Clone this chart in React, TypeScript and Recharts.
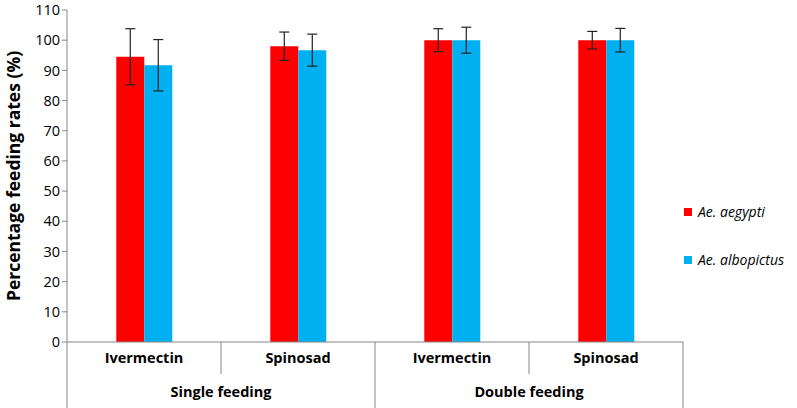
import React from "react";
import { BarChart, Bar, XAxis, YAxis, ErrorBar } from "recharts";

const treatments = ["Ivermectin", "Spinosad", "Ivermectin", "Spinosad"];
const feedingGroups = ["Single feeding", "Double feeding"];
const aegypti = [94.5, 98.0, 100, 100];
const aegyptiErr = [9.3, 4.7, 3.8, 2.9];
const albopictus = [91.7, 96.7, 100, 100];
const albopictusErr = [8.5, 5.3, 4.3, 3.9];
const yTicks = [0, 10, 20, 30, 40, 50, 60, 70, 80, 90, 100, 110];
const seriesNames = ["Ae. aegypti", "Ae. albopictus"];
const seriesColors = ["#FF0000", "#00B0F0"];

const data = treatments.map((t, i) => ({
  name: t,
  aegypti: aegypti[i],
  aegyptiErr: aegyptiErr[i],
  albopictus: albopictus[i],
  albopictusErr: albopictusErr[i],
}));

const FONT = "'Open Sans', sans-serif";
const AXIS = "#868686";

function CategoryTick(props: any) {
  const { x, y, payload, index } = props;
  const half = payload?.offset ?? 77;
  const left = x - half;
  const right = x + half;
  const last = index === treatments.length - 1;
  const outer = index % 2 === 0;
  return (
    <g>
      <line x1={left} y1={y - 8} x2={left} y2={outer ? y + 66 : y + 24} stroke={AXIS} />
      {last && <line x1={right} y1={y - 8} x2={right} y2={y + 66} stroke={AXIS} />}
      <text
        x={x}
        y={y + 13}
        textAnchor="middle"
        fontFamily={FONT}
        fontWeight="bold"
        fontSize={14.5}
        fill="#000"
      >
        {payload.value}
      </text>
      {outer && (
        <text
          x={right}
          y={y + 47}
          textAnchor="middle"
          fontFamily={FONT}
          fontWeight="bold"
          fontSize={14.5}
          fill="#000"
        >
          {feedingGroups[index / 2]}
        </text>
      )}
    </g>
  );
}

function LegendBox() {
  return (
    <div
      style={{
        position: "absolute",
        left: 684,
        top: 203,
        fontFamily: FONT,
        fontSize: 14,
        fontStyle: "italic",
        lineHeight: "18px",
      }}
    >
      {seriesNames.map((label, i) => (
        <div
          key={label}
          style={{ display: "flex", alignItems: "center", height: 18, marginBottom: i === 0 ? 30 : 0 }}
        >
          <span
            style={{ width: 8, height: 8, background: seriesColors[i], marginRight: 6, display: "inline-block" }}
          />
          <span>{label}</span>
        </div>
      ))}
    </div>
  );
}

export default function App() {
  return (
    <div style={{ position: "absolute", left: 0, top: 0, width: 797, height: 408, background: "#fff" }}>
      <BarChart
        width={797}
        height={408}
        data={data}
        margin={{ top: 10, right: 114, bottom: 0, left: 0 }}
        barCategoryGap="32%"
        barGap={0}
      >
        <YAxis
          width={67}
          domain={[0, 110]}
          ticks={yTicks}
          interval={0}
          tickSize={5}
          axisLine={{ stroke: AXIS }}
          tickLine={{ stroke: AXIS }}
          tick={{ fontFamily: FONT, fontSize: 14.5, fill: "#000" }}
          label={{
            value: "Percentage feeding rates (%)",
            angle: -90,
            position: "insideLeft",
            offset: 14,
            style: { fontFamily: FONT, fontSize: 17.5, fontWeight: "bold", fill: "#000", textAnchor: "middle" },
          }}
        />
        <XAxis
          dataKey="name"
          height={66}
          interval={0}
          tickLine={false}
          axisLine={{ stroke: AXIS }}
          tick={<CategoryTick />}
        />
        <Bar dataKey="aegypti" fill={seriesColors[0]} isAnimationActive={false}>
          <ErrorBar dataKey="aegyptiErr" width={5} stroke="#222" strokeWidth={1.2} isAnimationActive={false} />
        </Bar>
        <Bar dataKey="albopictus" fill={seriesColors[1]} isAnimationActive={false}>
          <ErrorBar dataKey="albopictusErr" width={5} stroke="#222" strokeWidth={1.2} isAnimationActive={false} />
        </Bar>
      </BarChart>
      <LegendBox />
    </div>
  );
}
